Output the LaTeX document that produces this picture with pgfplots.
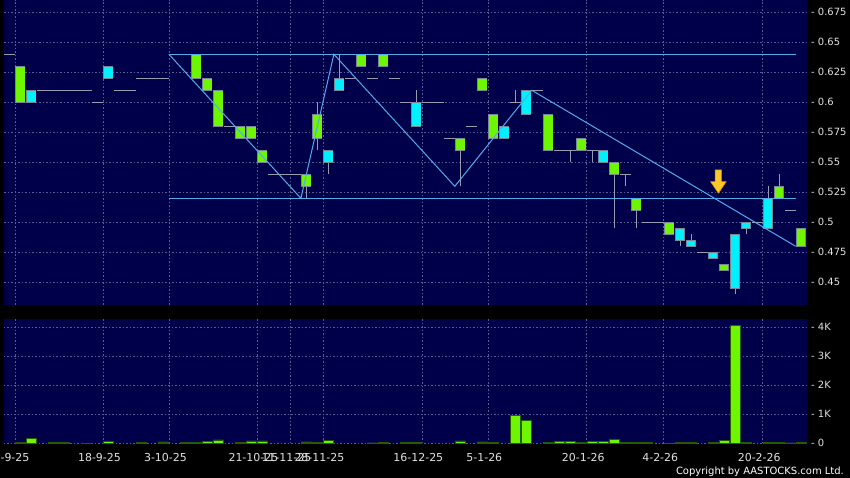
\documentclass[border=0pt]{standalone}
\usepackage{pgfplots}
\pgfplotsset{compat=1.18}
\usepackage{pgfplotstable}
\usepackage{fontspec}
\setmainfont{DejaVu Sans}
\definecolor{navybg}{RGB}{0,0,74}
\definecolor{gridc}{RGB}{85,95,145}
\definecolor{upg}{RGB}{110,245,0}
\definecolor{cyn}{RGB}{0,240,255}
\definecolor{edge}{RGB}{120,135,150}
\definecolor{dashc}{RGB}{155,155,175}
\definecolor{trend}{RGB}{85,170,235}
\definecolor{lbl}{RGB}{225,225,225}
\definecolor{arrowc}{RGB}{250,200,40}
\definecolor{arrowedge}{RGB}{200,140,0}
\definecolor{voledge}{RGB}{40,90,0}

\pgfplotstableread{
x b t
1 0.60 0.63
17 0.62 0.64
18 0.61 0.62
19 0.58 0.61
21 0.57 0.58
22 0.57 0.58
23 0.55 0.56
27 0.53 0.54
28 0.57 0.59
32 0.63 0.64
34 0.63 0.64
41 0.56 0.57
43 0.61 0.62
44 0.57 0.59
49 0.56 0.59
52 0.56 0.57
55 0.54 0.55
57 0.51 0.52
60 0.49 0.50
65 0.46 0.465
70 0.52 0.53
72 0.48 0.495
}\greenbody

\pgfplotstableread{
x b t
2 0.60 0.61
9 0.62 0.63
29 0.55 0.56
30 0.61 0.62
37 0.58 0.60
45 0.57 0.58
47 0.59 0.61
54 0.55 0.56
61 0.485 0.495
62 0.48 0.485
64 0.47 0.475
66 0.445 0.49
67 0.495 0.50
69 0.495 0.52
}\cyanbody

\pgfplotstableread{
x p
0 0.64
3 0.61
4 0.61
5 0.61
6 0.61
7 0.61
8 0.60
10 0.61
11 0.61
12 0.62
13 0.62
14 0.62
15 0.64
16 0.64
20 0.58
24 0.54
25 0.54
26 0.54
31 0.62
33 0.62
35 0.62
36 0.60
38 0.60
39 0.60
40 0.57
42 0.58
46 0.60
48 0.61
50 0.56
51 0.56
53 0.56
56 0.54
58 0.50
59 0.50
63 0.475
68 0.50
71 0.51
}\dashes

\pgfplotstableread{
x lo hi
27 0.52 0.53
28 0.56 0.60
29 0.54 0.55
30 0.62 0.64
37 0.60 0.61
41 0.53 0.56
46 0.60 0.61
51 0.55 0.56
53 0.55 0.56
55 0.495 0.54
56 0.53 0.54
57 0.495 0.51
61 0.48 0.485
62 0.485 0.49
66 0.44 0.445
67 0.49 0.495
69 0.52 0.53
70 0.53 0.54
}\wicks

\pgfplotstableread{
x v
1 40
2 160
4 30
5 30
7 10
9 60
12 40
14 50
16 30
17 20
18 70
19 120
21 40
22 80
23 80
27 50
28 40
29 100
33 15
34 20
36 30
37 40
41 80
43 50
44 20
46 970
47 800
49 40
50 60
51 60
52 20
53 70
54 60
55 140
56 40
57 40
58 20
60 10
61 20
62 20
64 20
65 100
66 4070
67 30
69 20
70 20
71 15
72 30
}\volume

\pgfplotsset{
  candle/.style 2 args={draw=none, no markers, forget plot,
    error bars/y dir=plus, error bars/y explicit, error bars/error mark=none,
    error bars/error bar style={draw=#1, line width=#2, line cap=butt, solid}},
  chartbase/.style={scale only axis, width=802.7bp, xmin=-0.5, xmax=72.5,
    axis background/.style={fill=navybg},
    axis line style={draw=none},
    xtick={0.5,8.5,14.5,22.5,25.5,28.5,37.5,43.5,52.5,59.5,68.5},
    major tick length=0pt, tick style={draw=none}, tick align=inside,
    grid=major, major grid style={draw=gridc, dash pattern=on 1.5bp off 2bp, line width=0.6bp},
    yticklabel pos=right,
    yticklabel style={anchor=west, inner sep=0pt, xshift=4.3bp,
      font=\fontsize{10}{12}\selectfont, text=lbl},
  },
}

\begin{document}
\begin{tikzpicture}
\fill[black] (0,0) rectangle (850bp,478bp);
\useasboundingbox (0,0) rectangle (850bp,478bp);

\begin{axis}[chartbase, at={(4bp,173bp)}, anchor=south west, height=305bp,
  ymin=0.4311, ymax=0.68525, xticklabels={},
  ytick={0.45,0.475,0.5,0.525,0.55,0.575,0.6,0.625,0.65,0.675},
  yticklabels={- 0.45,- 0.475,- 0.5,- 0.525,- 0.55,- 0.575,- 0.6,- 0.625,- 0.65,- 0.675},
]
\addplot[candle={dashc}{1bp}] table[x=x, y=lo, y error expr=\thisrow{hi}-\thisrow{lo}] {\wicks};
\addplot[candle={dashc}{11bp}] table[x=x, y expr=\thisrow{p}-0.0004, y error expr=0.0008] {\dashes};
\addplot[candle={edge}{10bp}] table[x=x, y expr=\thisrow{b}-0.0004, y error expr=\thisrow{t}-\thisrow{b}+0.0008] {\greenbody};
\addplot[candle={upg}{8.5bp}] table[x=x, y expr=\thisrow{b}+0.0004, y error expr=\thisrow{t}-\thisrow{b}-0.0008] {\greenbody};
\addplot[candle={edge}{10bp}] table[x=x, y expr=\thisrow{b}-0.0004, y error expr=\thisrow{t}-\thisrow{b}+0.0008] {\cyanbody};
\addplot[candle={cyn}{8.5bp}] table[x=x, y expr=\thisrow{b}+0.0004, y error expr=\thisrow{t}-\thisrow{b}-0.0008] {\cyanbody};
% trend lines
\addplot[trend, line width=1bp, mark=none] coordinates {(14.5,0.64) (71.5,0.64)};
\addplot[trend, line width=1bp, mark=none] coordinates {(14.5,0.52) (71.5,0.52)};
\addplot[trend, line width=1bp, mark=none] coordinates {(14.5,0.64) (26.5,0.52) (29.5,0.64) (40.5,0.53) (47.5,0.61) (71.5,0.48)};
% arrow
\addplot[fill=arrowc, draw=arrowedge, line width=0.5bp] coordinates {(64.17,0.5436) (64.77,0.5436) (64.77,0.5338) (65.18,0.5338) (64.47,0.5242) (63.76,0.5338) (64.17,0.5338)} --cycle;
\end{axis}

\begin{axis}[chartbase, at={(4bp,34.7bp)}, anchor=south west, height=124.3bp,
  ymin=0, ymax=4286,
  xticklabels={8-9-25,18-9-25,3-10-25,21-10-25,11-11-25,28-11-25,16-12-25,5-1-26,20-1-26,4-2-26,20-2-26},
  xticklabel style={anchor=base, inner sep=0pt, yshift=-18.4bp, xshift=-3.5bp,
    font=\fontsize{11}{13}\selectfont, text=lbl},
  ytick={0,1000,2000,3000,4000},
  yticklabels={- 0,- 1K,- 2K,- 3K,- 4K},
]
\addplot[ybar, bar width=10bp, fill=upg, draw=voledge, line width=0.6bp] table[x=x, y=v] {\volume};
\end{axis}

\node[anchor=base east, text=white, font=\fontsize{10}{12}\selectfont, inner sep=0pt] at (844bp,4bp) {Copyright by AASTOCKS.com Ltd.};
\end{tikzpicture}
\end{document}
